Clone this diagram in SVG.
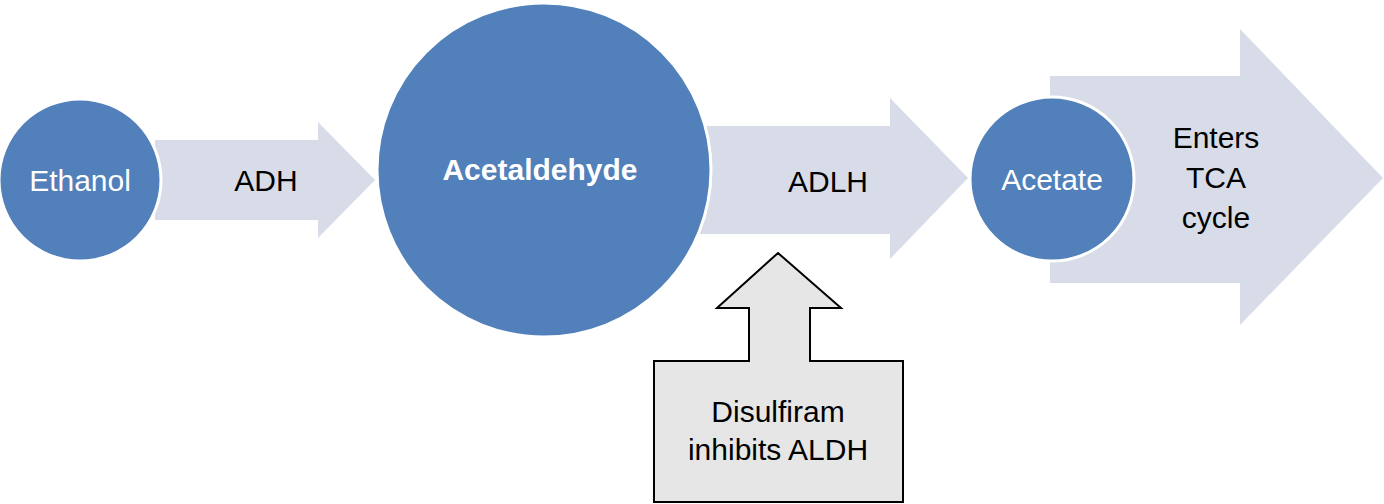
<svg xmlns="http://www.w3.org/2000/svg" width="1384" height="504" viewBox="0 0 1384 504">
<style>
.c{fill:#5180BA;stroke:#fff;stroke-width:3}
.a{fill:#D7DCE8}
text{font-family:"Liberation Sans",Arial,sans-serif;font-size:30px;text-anchor:middle}
.w{fill:#fff}
</style>
<rect width="1384" height="504" fill="#fff"/>
<g id="connectors">
<polygon class="a" points="155,140 318,140 318,122 375,180 318,238 318,220 155,220"/>
<polygon class="a" points="700,126 890,126 890,98 968,178 890,259 890,234 700,234"/>
<polygon class="a" points="1050,76 1240,76 1240,29 1383,178 1240,325 1240,283 1050,283"/>
<polygon points="778,253 841,308 810,308 810,361 903,361 903,502 654,502 654,361 749,361 749,308 717,308" fill="#E6E6E6" stroke="#000" stroke-width="2"/>
</g>
<g id="ethanol"><circle class="c" cx="80" cy="180" r="81"/><text class="w" x="80" y="191">Ethanol</text></g>
<text x="266" y="191">ADH</text>
<g id="acetaldehyde"><circle class="c" cx="544" cy="170" r="167"/><text class="w" x="540" y="180" font-weight="bold">Acetaldehyde</text></g>
<text x="828" y="192">ADLH</text>
<g id="acetate"><circle class="c" cx="1052" cy="179" r="82"/><text class="w" x="1052" y="190">Acetate</text></g>
<g id="tca"><text x="1216" y="148">Enters</text><text x="1216" y="188">TCA</text><text x="1216" y="228">cycle</text></g>
<g id="disulfiram"><text x="778" y="422">Disulfiram</text><text x="778" y="460">inhibits ALDH</text></g>
</svg>
